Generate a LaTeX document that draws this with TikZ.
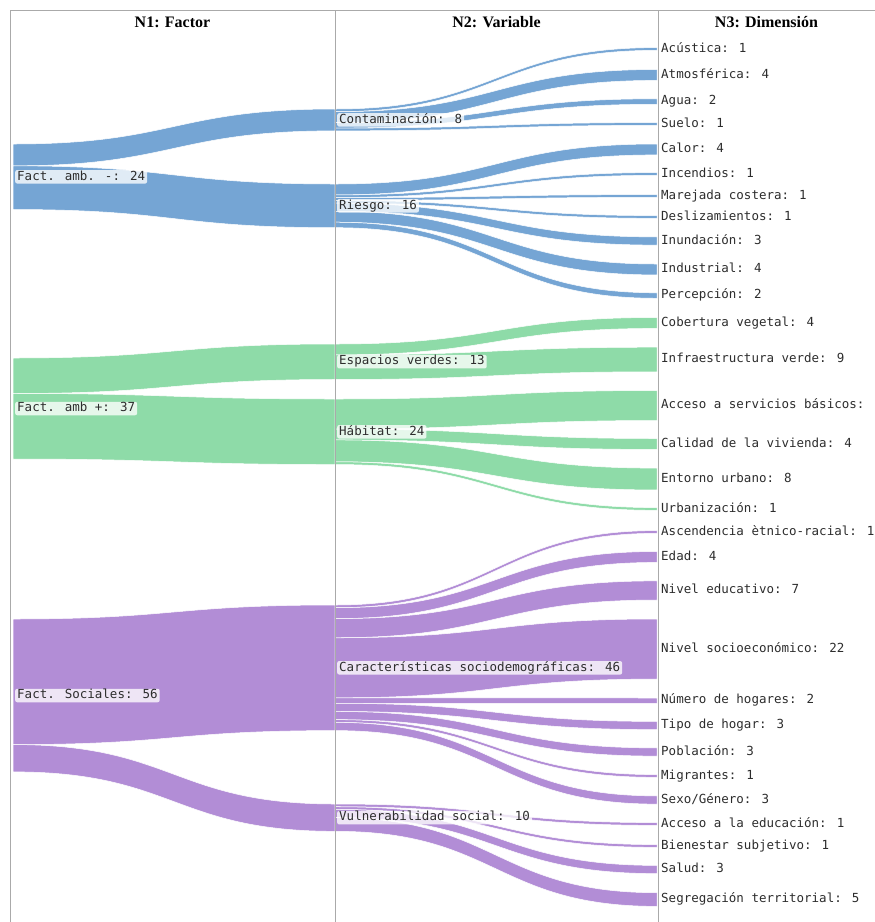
\documentclass[tikz,border=0pt]{standalone}
\usepackage{fontspec}
\setmainfont{Liberation Serif}
\newfontfamily\monof{DejaVu Sans Mono}
\definecolor{cblue}{RGB}{117,165,212}
\definecolor{cgreen}{RGB}{142,219,168}
\definecolor{cpurple}{RGB}{178,141,214}
\definecolor{gridgrey}{RGB}{170,170,170}
\definecolor{labtext}{RGB}{45,45,45}
% band: colour, x0, top0, x1, top1, thickness
\newcommand{\flowband}[6]{%
  \path[fill=#1, draw=white, line width=0.5pt]
    (#2,#3) .. controls ({(#2+#4)/2},#3) and ({(#2+#4)/2},#5) .. (#4,#5)
    -- (#4,{#5+#6})
    .. controls ({(#2+#4)/2},{#5+#6}) and ({(#2+#4)/2},{#3+#6}) .. (#2,{#3+#6})
    -- cycle;}
\begin{document}
\begin{tikzpicture}[x=1pt,y=-1pt,
  lab/.style={font=\monof\fontsize{12.5}{14}\selectfont, text=labtext, anchor=west,
    inner xsep=2pt, inner ysep=1pt, text height=9pt, text depth=2.5pt, rounded corners=2pt},
  labbox/.style={lab, fill=white, fill opacity=0.78, text opacity=1},
  head/.style={font=\bfseries\fontsize{16}{18}\selectfont, text=black, anchor=center},
  frame/.style={draw=gridgrey, line width=0.9pt}]
\useasboundingbox (0,0) rectangle (875,922);
\clip (0,0) rectangle (875,922);
\fill[white] (0,0) rectangle (875,922);

% ---------- stage 1 (N1 -> N2)
\flowband{cblue}{13}{144}{335}{109}{21.84}
\flowband{cblue}{13}{165.84}{335}{184}{43.68}
\flowband{cgreen}{13}{358}{335}{344}{35.49}
\flowband{cgreen}{13}{393.49}{335}{399}{65.52}
\flowband{cpurple}{13}{619}{335}{605}{125.58}
\flowband{cpurple}{13}{744.58}{335}{804}{27.3}

% ---------- stage 2 (N2 -> N3)
% Contaminacion
\flowband{cblue}{335}{109}{657}{47.6}{2.73}
\flowband{cblue}{335}{111.73}{657}{69.5}{10.92}
\flowband{cblue}{335}{122.65}{657}{98.8}{5.46}
\flowband{cblue}{335}{128.11}{657}{122.6}{2.73}
% Riesgo
\flowband{cblue}{335}{184}{657}{144}{10.92}
\flowband{cblue}{335}{194.92}{657}{172.6}{2.73}
\flowband{cblue}{335}{197.65}{657}{194.6}{2.73}
\flowband{cblue}{335}{200.38}{657}{215.6}{2.73}
\flowband{cblue}{335}{203.11}{657}{236.9}{8.19}
\flowband{cblue}{335}{211.3}{657}{264}{10.92}
\flowband{cblue}{335}{222.22}{657}{292.8}{5.46}
% Espacios verdes
\flowband{cgreen}{335}{344}{657}{317.5}{10.92}
\flowband{cgreen}{335}{354.92}{657}{347.2}{24.57}
% Habitat
\flowband{cgreen}{335}{399}{657}{390.5}{30.03}
\flowband{cgreen}{335}{429.03}{657}{438.5}{10.92}
\flowband{cgreen}{335}{439.95}{657}{468.1}{21.84}
\flowband{cgreen}{335}{461.79}{657}{507.6}{2.73}
% Caracteristicas sociodemograficas
\flowband{cpurple}{335}{605}{657}{530.6}{2.73}
\flowband{cpurple}{335}{607.73}{657}{551.5}{10.92}
\flowband{cpurple}{335}{618.65}{657}{580.9}{19.11}
\flowband{cpurple}{335}{637.76}{657}{619}{60.06}
\flowband{cpurple}{335}{697.82}{657}{698}{5.46}
\flowband{cpurple}{335}{703.28}{657}{721.4}{8.19}
\flowband{cpurple}{335}{711.47}{657}{747.9}{8.19}
\flowband{cpurple}{335}{719.66}{657}{774.6}{2.73}
\flowband{cpurple}{335}{722.39}{657}{795.9}{8.19}
% Vulnerabilidad social
\flowband{cpurple}{335}{804}{657}{822.6}{2.73}
\flowband{cpurple}{335}{806.73}{657}{844.6}{2.73}
\flowband{cpurple}{335}{809.46}{657}{865.4}{8.19}
\flowband{cpurple}{335}{817.65}{657}{892.7}{13.65}

% ---------- frame and column lines
\draw[frame] (10,922) -- (10,10) -- (875,10);
\draw[frame] (335,10) -- (335,922);
\draw[frame] (658,10) -- (658,922);

% ---------- headers
\node[head] (h1) at (172.5,22) {N1: Factor};
\node[head] (h2) at (496.5,22) {N2: Variable};
\node[head] (h3) at (766.5,22) {N3: Dimensión};

% ---------- N1 labels
\node[labbox] (famn) at (15,176.8) {Fact. amb. -: 24};
\node[labbox] (famp) at (15,408.5) {Fact. amb +: 37};
\node[labbox] (fsoc) at (15,695.5) {Fact. Sociales: 56};

% ---------- N2 labels
\node[labbox] (cont) at (337,119.9) {Contaminación: 8};
\node[labbox] (ries) at (337,205.8) {Riesgo: 16};
\node[labbox] (espv) at (337,361.7) {Espacios verdes: 13};
\node[labbox] (habi) at (337,431.8) {Hábitat: 24};
\node[labbox] (cara) at (337,667.8) {Características sociodemográficas: 46};
\node[labbox] (vuln) at (337,817.7) {Vulnerabilidad social: 10};

% ---------- N3 labels
\node[lab] (d01) at (659,49) {Acústica: 1};
\node[lab] (d02) at (659,75) {Atmosférica: 4};
\node[lab] (d03) at (659,101.5) {Agua: 2};
\node[lab] (d04) at (659,124) {Suelo: 1};
\node[lab] (d05) at (659,149.5) {Calor: 4};
\node[lab] (d06) at (659,174) {Incendios: 1};
\node[lab] (d07) at (659,196) {Marejada costera: 1};
\node[lab] (d08) at (659,217) {Deslizamientos: 1};
\node[lab] (d09) at (659,241) {Inundación: 3};
\node[lab] (d10) at (659,269.5) {Industrial: 4};
\node[lab] (d11) at (659,295.5) {Percepción: 2};
\node[lab] (d12) at (659,323) {Cobertura vegetal: 4};
\node[lab] (d13) at (659,359.5) {Infraestructura verde: 9};
\node[lab] (d14) at (659,405.5) {Acceso a servicios básicos: 11};
\node[lab] (d15) at (659,444) {Calidad de la vivienda: 4};
\node[lab] (d16) at (659,479) {Entorno urbano: 8};
\node[lab] (d17) at (659,509) {Urbanización: 1};
\node[lab] (d18) at (659,532) {Ascendencia ètnico-racial: 1};
\node[lab] (d19) at (659,557) {Edad: 4};
\node[lab] (d20) at (659,590.5) {Nivel educativo: 7};
\node[lab] (d21) at (659,649) {Nivel socioeconómico: 22};
\node[lab] (d22) at (659,700.7) {Número de hogares: 2};
\node[lab] (d23) at (659,725.5) {Tipo de hogar: 3};
\node[lab] (d24) at (659,752) {Población: 3};
\node[lab] (d25) at (659,776) {Migrantes: 1};
\node[lab] (d26) at (659,800) {Sexo/Género: 3};
\node[lab] (d27) at (659,824) {Acceso a la educación: 1};
\node[lab] (d28) at (659,846) {Bienestar subjetivo: 1};
\node[lab] (d29) at (659,869.5) {Salud: 3};
\node[lab] (d30) at (659,899.5) {Segregación territorial: 5};
\end{tikzpicture}
\end{document}
